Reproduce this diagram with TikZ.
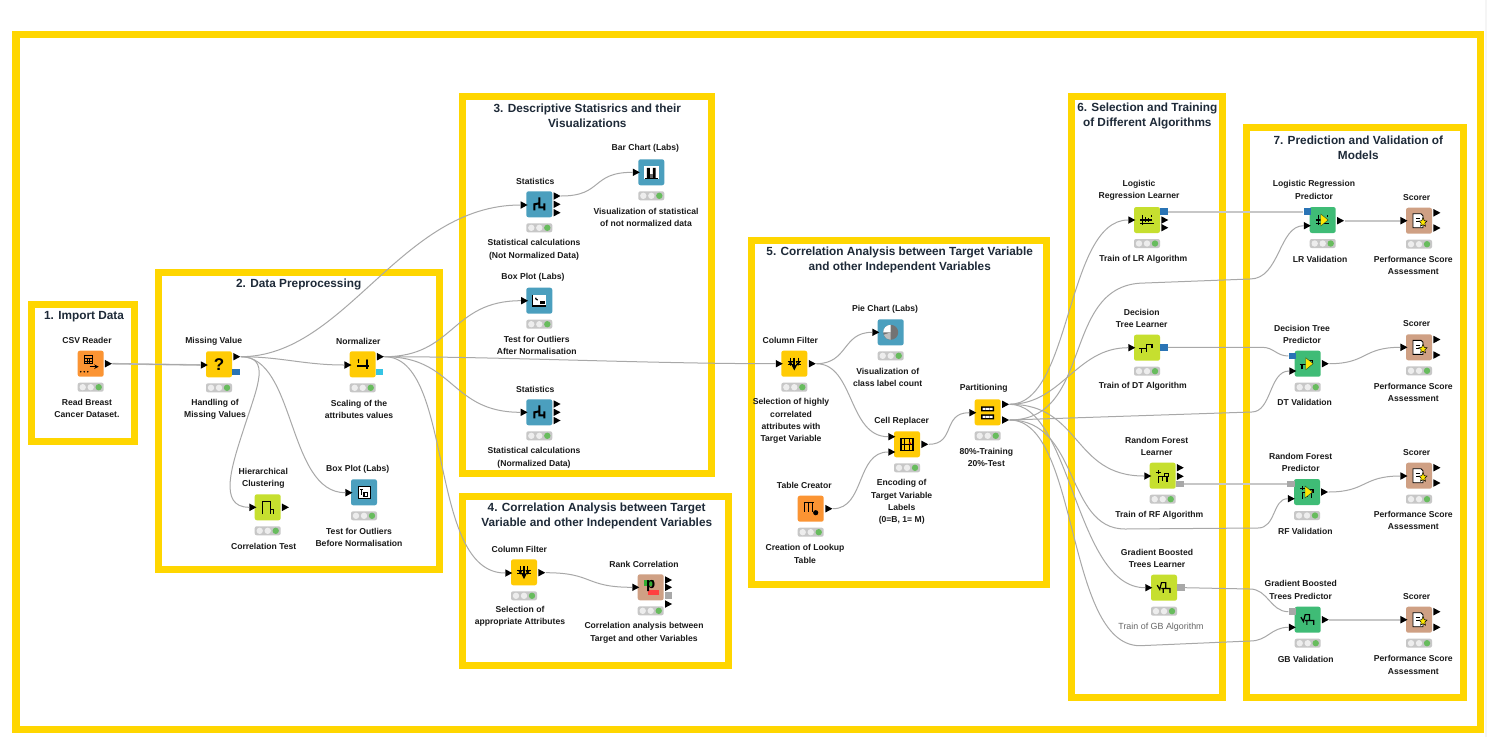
\documentclass[tikz,border=0pt]{standalone}
\usepackage{fontspec}
\setmainfont{Liberation Sans}
\usetikzlibrary{shapes.geometric}
\definecolor{frameY}{HTML}{FFD600}
\definecolor{kOrange}{HTML}{FB9433}
\definecolor{kYellow}{HTML}{FFCB05}
\definecolor{kBlue}{HTML}{4B9FBE}
\definecolor{kLime}{HTML}{C6DF2F}
\definecolor{kGreen}{HTML}{3FBC76}
\definecolor{kTan}{HTML}{CFA084}
\definecolor{wireC}{HTML}{A8A8A8}
\definecolor{portB}{HTML}{2A74B5}
\definecolor{portC}{HTML}{35C4E4}
\definecolor{portG}{HTML}{A8A8A8}
\definecolor{titleC}{HTML}{1E2A38}
\definecolor{labC}{HTML}{1A1A1A}
\definecolor{lampG}{HTML}{68BC5E}
\tikzset{
  x=1pt,y=-1pt,
  frameBox/.style={draw=frameY,line width=7.4pt,fill=none},
  titleT/.style={font=\bfseries\fontsize{11.8}{15}\selectfont,text=titleC,align=center,inner sep=0pt},
  lab/.style={font=\bfseries\fontsize{8.6}{12.3}\selectfont,text=labC,align=center,inner sep=0pt},
  labLight/.style={font=\fontsize{8.9}{12.3}\selectfont,text=black!60,align=center,inner sep=0pt},
  kbox/.style={rectangle,rounded corners=2.2pt,minimum size=26pt,inner sep=0pt,draw=none},
  lightbar/.style={rectangle,rounded corners=2pt,minimum width=26pt,minimum height=9pt,inner sep=0pt,fill=black!22},
  ptri/.style={isosceles triangle,isosceles triangle stretches,minimum width=7.5pt,minimum height=7pt,inner sep=0pt,fill=black,draw=none},
  psq/.style={rectangle,minimum width=7.5pt,minimum height=6.5pt,inner sep=0pt,draw=none},
  wire/.style={draw=wireC,line width=1pt},
  wireT/.style={draw=black!22,line width=1.6pt},
  ik/.style={draw=black,line width=1.2pt,fill=none},
}
\newcommand\KN[5]{%
  \node[kbox,fill=#4] (#1) at (#2,#3) {};
  \begin{scope}[shift={(#2,#3)}]
    \node[lightbar] (#1-st) at (0,23.5) {};
    \fill[black!7] (-8,23.5) circle[radius=3.2pt];
    \fill[black!7] (0,23.5) circle[radius=3.2pt];
    \fill[lampG] (8,23.5) circle[radius=3.2pt];
    #5
  \end{scope}}
\newcommand\PT[3]{\node[ptri] (#1) at (#2,#3) {};}
\newcommand\PS[4]{\node[psq,fill=#4] (#1) at (#2,#3) {};}
\newcommand\SC[2]{\begin{scope}[scale=#1]#2\end{scope}}
% icons
\newcommand\icCsv{\draw[ik,line width=.8pt] (-6.5,-8) rectangle (1.5,0);\draw[ik,line width=.6pt] (-6.5,-5.3)--(1.5,-5.3) (-6.5,-2.6)--(1.5,-2.6) (-3.8,-5.3)--(-3.8,0) (-1.1,-5.3)--(-1.1,0);
  \draw[ik,-stealth,line width=1pt] (-1,3)--(8,3);\fill[black] (-10,8) circle[radius=.9pt] (-6.5,8) circle[radius=.9pt] (-3,8) circle[radius=.9pt];}
\newcommand\icQ{\node[font=\bfseries\fontsize{17}{17}\selectfont,inner sep=0pt] at (0,0.5) {?};}
\newcommand\icNorm{\SC{.85}{\draw[ik] (-7,2)--(7,2);\draw[ik] (-5,-5)--(-5,-2) (5,-5)--(5,-2) (5,-2)--(5,6);\fill[black] (-5,-5) circle[radius=1.1pt] (5,-5) circle[radius=1.1pt];}}
\newcommand\icHier{\draw[ik] (-5,7)--(-5,-6)--(3,-6)--(3,7);\draw[ik,line width=.9pt] (3,2)--(6,2)--(6,7);}
\newcommand\icBoxA{\SC{.75}{\fill[white] (-8,-8) rectangle (8,8);\draw[ik,line width=.8pt] (-8,-8) rectangle (8,8);\draw[ik,line width=1.1pt] (-3,-4)--(-3,3) (0,0) rectangle (5,5) (-5,-4)--(-1,-4);}}
\newcommand\icBoxB{\SC{.75}{\fill[white] (-9,-8) rectangle (9,8);\draw[ik,line width=1.1pt] (-9,-8)--(-9,7)--(9,7);\draw[ik] (-5,-4) arc[start angle=180,end angle=270,radius=3pt];\fill[black] (1,1) rectangle (7,4);}}
\newcommand\icStat{\draw[ik,line width=2pt] (-5,6)--(-5,0)--(0,-1)--(0,-7) (0,-1)--(0,3)--(5,3)--(5,6) (5,3)--(5,-1);}
\newcommand\icBar{\SC{.72}{\fill[white] (-10,-9) rectangle (10,9);\draw[ik,line width=.9pt] (-9,8)--(9,8);\fill[black] (-6,-6) rectangle (-2,8) (2,-6) rectangle (6,8);\fill[black!60] (-2,3) rectangle (2,8);}}
\newcommand\icFilt{\SC{.75}{\draw[ik,line width=2pt,-stealth] (0,-8)--(0,9);\draw[ik,line width=1pt,-stealth] (-5,-8)--(-5,3);\draw[ik,line width=1pt,-stealth] (5,-8)--(5,3);\draw[ik,line width=1pt] (-9,-3)--(-2,-3) (2,-3)--(9,-3) (-9,1)--(-2,1) (2,1)--(9,1);}}
\newcommand\icPie{\fill[black!55] (0,0) circle[radius=7.5pt];\fill[white] (0,0)--(-7.5,0) arc[start angle=180,end angle=90,radius=7.5pt]--cycle;\fill[black!25] (0,0)--(0,7.5) arc[start angle=270,end angle=200,radius=7.5pt]--cycle;}
\newcommand\icCell{\SC{.85}{\draw[ik,line width=1.2pt] (-7,-7) rectangle (7,7);\draw[ik,line width=.9pt] (-7,0)--(7,0) (-2.5,-7)--(-2.5,7) (2.5,-7)--(2.5,7);\fill[red!80!black] (3.5,-1) circle[radius=1.5pt];}}
\newcommand\icTable{\draw[ik,line width=1.1pt] (-7,-6)--(3,-6);\draw[ik,line width=1.4pt] (-6,-6)--(-6,3) (-2,-6)--(-2,3) (2,-6)--(2,3);\fill[black] (5,4) circle[radius=2.6pt];}
\newcommand\icPart{\fill[black] (-6.5,-6) rectangle (6.5,-1) (-6.5,2) rectangle (6.5,7);\fill[white] (-5,-4.5) rectangle (-2,-2.5) (-1.5,-4.5) rectangle (1.5,-2.5) (2,-4.5) rectangle (5,-2.5) (-5,3.5) rectangle (-2,5.5) (-1.5,3.5) rectangle (1.5,5.5) (2,3.5) rectangle (5,5.5);}
\newcommand\icLR{\SC{.75}{\draw[ik,line width=1.1pt] (-6,-7)--(-6,6) (-9,5)--(9,5) (-9,0)--(7,0);\draw[ik,line width=1.1pt] (-2,2)--(-2,-4) (2,2)--(2,-3) (6,-4)--(6,-7);}}
\newcommand\icTree{\SC{.82}{\draw[ik,line width=1.2pt] (-7,7)--(-7,1)--(-1,1)--(-1,-4)--(6,-4)--(6,0) (-1,1)--(-1,5) (-10,1)--(-7,1);}}
\newcommand\icRF{\SC{.85}{\draw[ik,line width=1.2pt] (-5,8)--(-5,1)--(5,1)--(5,7) (0,1)--(0,6) (-5,-2)--(-5,-7) (-8,-4)--(-2,-4) (2,-3)--(2,1) (2,-3)--(7,-3)--(7,1);}}
\newcommand\icGB{\SC{.85}{\draw[ik,line width=1.2pt] (-8,-3)--(-5,2)--(-3,-6)--(2,-6)--(2,1)--(-3,1) (2,1)--(7,1)--(7,6) (-1,1)--(-1,6);}}
\newcommand\icTriY{\fill[yellow!90!orange,draw=black!60!kGreen,line width=.4pt] (-2,-6)--(5.5,0)--(-2,6)--cycle;}
\newcommand\icScore{\fill[white,draw=black,line width=.9pt] (-6,-7) -- (2,-7) -- (4,-5)--(4,7)--(-6,7)--cycle;\draw[black,line width=.9pt] (-3,-2)--(1,-2) (-3,1)--(0,1);\fill[yellow!90!orange,draw=black,line width=.5pt] (4,-3)--(5.3,0)--(8,0.4)--(5.8,2.5)--(6.5,5.5)--(4,4)--(1.5,5.5)--(2.2,2.5)--(0,0.4)--(2.7,0)--cycle;}
\newcommand\icRank{\fill[green!60!black!80!white] (-7,-7) rectangle (3,-1);\fill[red!75!white] (-3,3) rectangle (8,8);\node[font=\bfseries\fontsize{15}{15}\selectfont,inner sep=0pt] at (0,-1) {p};}

\begin{document}
\begin{tikzpicture}
\useasboundingbox (0,0) rectangle (1487,737);
\fill[white] (0,0) rectangle (1487,737);
\fill[black!4] (1485,0) rectangle (1487,737);
% frames
\draw[frameBox] (16,34.5) rectangle (1480.5,729.5);
\draw[frameBox] (31.7,304.7) rectangle (134.3,441.3);
\draw[frameBox] (158.7,272.7) rectangle (439.3,569.3);
\draw[frameBox] (462.7,96.7) rectangle (711.3,473.3);
\draw[frameBox] (462.7,496.7) rectangle (728.3,665.3);
\draw[frameBox] (751.7,240.7) rectangle (1046.3,584.3);
\draw[frameBox] (1071.7,96.7) rectangle (1222.3,697.3);
\draw[frameBox] (1246.7,127.7) rectangle (1463.3,697.3);
% titles
\node[titleT] (t1) at (84,316.7) {1. Import Data};
\node[titleT] (t2) at (298.7,284.5) {2. Data Preprocessing};
\node[titleT] (t3) at (587.3,115.5) {3. Descriptive Statisrics and their\\Visualizations};
\node[titleT] (t4) at (596.7,516) {4. Correlation Analysis between Target\\Variable and other Independent Variables};
\node[titleT] (t5) at (899.7,259.5) {5. Correlation Analysis between Target Variable\\and other Independent Variables};
\node[titleT] (t6) at (1147.3,116) {6. Selection and Training\\of Different Algorithms};
\node[titleT] (t7) at (1358.3,147.5) {7. Prediction and Validation of\\Models};
% nodes
\KN{csv}{90.7}{363.7}{kOrange}{\icCsv}
\KN{mv}{219}{364.3}{kYellow}{\icQ}
\KN{norm}{362.7}{364.3}{kYellow}{\icNorm}
\KN{hier}{267.7}{507.3}{kLime}{\icHier}
\KN{boxa}{364}{492.3}{kBlue}{\icBoxA}
\KN{stata}{539.3}{204.3}{kBlue}{\icStat}
\KN{bar}{651.3}{172.3}{kBlue}{\icBar}
\KN{boxb}{539.3}{300.7}{kBlue}{\icBoxB}
\KN{statb}{539.3}{412.3}{kBlue}{\icStat}
\KN{cfa}{524}{572.3}{kYellow}{\icFilt}
\KN{rank}{650.7}{587.3}{kTan}{\icRank}
\KN{cfb}{794.3}{363.7}{kYellow}{\icFilt}
\KN{pie}{890.7}{332.3}{kBlue}{\icPie}
\KN{cell}{907}{444.3}{kYellow}{\icCell}
\KN{tab}{810.7}{508.7}{kOrange}{\icTable}
\KN{part}{987.7}{412.3}{kYellow}{\icPart}
\KN{lrl}{1147}{220}{kLime}{\icLR}
\KN{dtl}{1147}{347.7}{kLime}{\icTree}
\KN{rfl}{1162.7}{475.7}{kLime}{\icRF}
\KN{gbl}{1164}{587.7}{kLime}{\icGB}
\KN{lrp}{1322.7}{220}{kGreen}{\icLR\icTriY}
\KN{dtp}{1307.7}{363.7}{kGreen}{\icTree\icTriY}
\KN{rfp}{1307}{492}{kGreen}{\icRF\icTriY}
\KN{gbp}{1307.7}{619.7}{kGreen}{\icGB}
\KN{sca}{1419}{220.7}{kTan}{\icScore}
\KN{scb}{1419}{347.3}{kTan}{\icScore}
\KN{scc}{1419}{475.7}{kTan}{\icScore}
\KN{scd}{1419}{619.7}{kTan}{\icScore}
% ports
\PT{csv-o}{107.2}{363.7}
\PT{mv-i}{203}{365}\PT{mv-o}{235.5}{356.7}\PS{mv-s}{236}{372}{portB}
\PT{norm-i}{346.7}{365}\PT{norm-o}{379.2}{356.7}\PS{norm-s}{379.5}{372}{portC}
\PT{hier-i}{251.7}{507.3}\PT{hier-o}{284.2}{507.3}
\PT{boxa-i}{347.7}{492.7}
\PT{stata-i}{522.8}{205}\PT{stata-a}{555.8}{196}\PT{stata-b}{555.8}{204.3}\PT{stata-c}{555.8}{212.7}
\PT{bar-i}{635}{172.3}
\PT{boxb-i}{523.3}{300.7}
\PT{statb-i}{522.8}{412.3}\PT{statb-a}{555.8}{404}\PT{statb-b}{555.8}{412.3}\PT{statb-c}{555.8}{420.5}
\PT{cfa-i}{507.5}{573}\PT{cfa-o}{540.5}{572.7}
\PT{rank-i}{634.5}{587.3}\PT{rank-a}{667.3}{580}\PT{rank-b}{667.3}{587.3}\PS{rank-s}{668.7}{595.7}{portG}\PT{rank-c}{667.3}{604}
\PT{cfb-i}{778}{363.7}\PT{cfb-o}{811}{363.7}
\PT{pie-i}{874.5}{332.3}
\PT{cell-ia}{890.5}{436.7}\PT{cell-ib}{890.5}{452}\PT{cell-o}{923.5}{444.3}
\PT{tab-o}{827.7}{508.7}
\PT{part-i}{971.5}{412.7}\PT{part-a}{1004.3}{404.3}\PT{part-b}{1004.3}{420}
\PT{lrl-i}{1130.5}{220}\PS{lrl-s}{1164}{211.7}{portB}\PT{lrl-a}{1163.5}{220}\PT{lrl-b}{1163.5}{227.7}
\PT{dtl-i}{1130.5}{347.7}\PS{dtl-s}{1164}{347.3}{portB}
\PT{rfl-i}{1146.5}{476}\PT{rfl-a}{1179}{467.7}\PT{rfl-b}{1179}{476.3}\PS{rfl-s}{1180}{484}{portG}
\PT{gbl-i}{1147.5}{587.7}\PS{gbl-s}{1181}{587.7}{portG}
\PS{lrp-s}{1307.3}{211.7}{portB}\PT{lrp-i}{1306}{225.7}\PT{lrp-o}{1339.3}{220.7}
\PS{dtp-s}{1292.3}{356}{portB}\PT{dtp-i}{1291.5}{371}\PT{dtp-o}{1324}{363.7}
\PS{rfp-s}{1291}{484}{portG}\PT{rfp-i}{1290}{498.7}\PT{rfp-o}{1323.3}{492}
\PS{gbp-s}{1292.3}{611.7}{portG}\PT{gbp-i}{1291}{627.3}\PT{gbp-o}{1324}{619.7}
\PT{sca-i}{1402.7}{220.7}\PT{sca-a}{1435.7}{212.8}\PT{sca-b}{1435.7}{228}
\PT{scb-i}{1402.7}{347.3}\PT{scb-a}{1435.7}{339.5}\PT{scb-b}{1435.7}{355}
\PT{scc-i}{1402.7}{476}\PT{scc-a}{1435.7}{467.7}\PT{scc-b}{1435.7}{483}
\PT{scd-i}{1402.7}{619.7}\PT{scd-a}{1435.7}{611.7}\PT{scd-b}{1435.7}{627.3}
% labels
\node[lab] (l01) at (87,340) {CSV Reader};
\node[lab] (l02) at (87,408.7) {Read Breast\\Cancer Dataset.};
\node[lab] (l03) at (213.7,341.3) {Missing Value};
\node[lab] (l04) at (215,409.3) {Handling of\\Missing Values};
\node[lab] (l05) at (358.3,341.3) {Normalizer};
\node[lab] (l06) at (359,409.3) {Scaling of the\\attributes values};
\node[lab] (l07) at (263.3,478.3) {Hierarchical\\Clustering};
\node[lab] (l08) at (263.7,546.3) {Correlation Test};
\node[lab] (l09) at (357.7,469) {Box Plot (Labs)};
\node[lab] (l10) at (359,537.3) {Test for Outliers\\Before Normalisation};
\node[lab] (l11) at (645.3,148.7) {Bar Chart (Labs)};
\node[lab] (l12) at (535.3,181.3) {Statistics};
\node[lab] (l13) at (646,217.7) {Visualization of statistical\\of not normalized data};
\node[lab] (l14) at (534,249.7) {Statistical calculations\\(Not Normalized Data)};
\node[lab] (l15) at (533,277.7) {Box Plot (Labs)};
\node[lab] (l16) at (536.7,345.7) {Test for Outliers\\After  Normalisation};
\node[lab] (l17) at (535.3,389) {Statistics};
\node[lab] (l18) at (534,457.7) {Statistical calculations\\(Normalized Data)};
\node[lab] (l19) at (519.3,549) {Column Filter};
\node[lab] (l20) at (520,616.3) {Selection of\\appropriate Attributes};
\node[lab] (l21) at (644,564) {Rank Correlation};
\node[lab] (l22) at (644,632.7) {Correlation analysis between\\Target and other Variables};
\node[lab] (l23) at (885,309) {Pie Chart (Labs)};
\node[lab] (l24) at (790.3,340.3) {Column Filter};
\node[lab] (l25) at (887.7,377.7) {Visualization of\\class label count};
\node[lab] (l26) at (791,421) {Selection of highly\\correlated\\attributes with\\Target Variable};
\node[lab] (l27) at (901.7,421.3) {Cell Replacer};
\node[lab] (l28) at (983.7,388.7) {Partitioning};
\node[lab] (l29) at (986.3,457.7) {80\%-Training\\20\%-Test};
\node[lab] (l30) at (804.3,485) {Table Creator};
\node[lab] (l31) at (901.7,502) {Encoding of\\Target Variable\\Labels\\(0=B, 1= M)};
\node[lab] (l32) at (805,554) {Creation of Lookup\\Table};
\node[lab] (l33) at (1139,190) {Logistic\\Regression Learner};
\node[lab] (l34) at (1143.3,259) {Train of LR Algorithm};
\node[lab] (l35) at (1314,190) {Logistic Regression\\Predictor};
\node[lab] (l36) at (1320,259) {LR Validation};
\node[lab] (l37) at (1416.7,197.7) {Scorer};
\node[lab] (l38) at (1413.3,265.7) {Performance Score\\Assessment};
\node[lab] (l39) at (1141.7,318.3) {Decision\\Tree Learner};
\node[lab] (l40) at (1142.7,386.3) {Train of DT Algorithm};
\node[lab] (l41) at (1302,334.3) {Decision Tree\\Predictor};
\node[lab] (l42) at (1304.7,402.7) {DT Validation};
\node[lab] (l43) at (1416.7,324) {Scorer};
\node[lab] (l44) at (1413.3,392.3) {Performance Score\\Assessment};
\node[lab] (l45) at (1156.7,446.3) {Random Forest\\Learner};
\node[lab] (l46) at (1159.3,515.3) {Train of RF Algorithm};
\node[lab] (l47) at (1300.7,462.7) {Random Forest\\Predictor};
\node[lab] (l48) at (1305.3,531.3) {RF Validation};
\node[lab] (l49) at (1416.7,452.7) {Scorer};
\node[lab] (l50) at (1413.3,520.7) {Performance Score\\Assessment};
\node[lab] (l51) at (1157,558.3) {Gradient Boosted\\Trees Learner};
\node[labLight] (l52) at (1161,626.7) {Train of GB Algorithm};
\node[lab] (l53) at (1300.7,590) {Gradient Boosted\\Trees Predictor};
\node[lab] (l54) at (1305.7,659) {GB Validation};
\node[lab] (l55) at (1416.7,596.7) {Scorer};
\node[lab] (l56) at (1413.3,665) {Performance Score\\Assessment};
% free bend points
\coordinate (lrA) at (1145,283);\coordinate (lrB) at (1250,279);
\coordinate (dtB) at (1251.7,412);
\coordinate (rfA) at (1125,529);\coordinate (rfB) at (1258,528);
\coordinate (gbA) at (1140,645.7);\coordinate (gbB) at (1250,641);
\coordinate (dsA) at (1262,347.3);
\coordinate (gsA) at (1250,589);
\coordinate (hierM) at (245,425);
% wires
\draw[wireT] (csv-o.east) -- (mv-i.west);
\draw[wire] (csv-o.east) -- (mv-i.west);
\draw[wire] (mv-o.east) .. controls +(40,0) and +(-40,0) .. (norm-i.west);
\draw[wire] (mv-o.east) .. controls +(105,0) and +(-120,0) .. (stata-i.west);
\draw[wire] (mv-o.east) .. controls +(30,0) and +(13,-40) .. (hierM) .. controls +(-13,40) and +(-32,0) .. (hier-i.west);
\draw[wire] (mv-o.east) .. controls +(55,0) and +(-58,0) .. (boxa-i.west);
\draw[wire] (norm-o.east) .. controls +(70,0) and +(-70,0) .. (boxb-i.west);
\draw[wire] (norm-o.east) .. controls +(70,0) and +(-70,0) .. (statb-i.west);
\draw[wire] (norm-o.east) .. controls +(120,0) and +(-130,0) .. (cfb-i.west);
\draw[wire] (norm-o.east) .. controls +(70,0) and +(-78,0) .. (cfa-i.west);
\draw[wire] (stata-a.east) .. controls +(42,0) and +(-42,0) .. (bar-i.west);
\draw[wire] (cfa-o.east) .. controls +(48,0) and +(-48,0) .. (rank-i.west);
\draw[wire] (cfb-o.east) .. controls +(32,0) and +(-30,0) .. (pie-i.west);
\draw[wire] (cfb-o.east) .. controls +(38,0) and +(-40,0) .. (cell-ia.west);
\draw[wire] (tab-o.east) .. controls +(32,0) and +(-32,0) .. (cell-ib.west);
\draw[wire] (cell-o.east) .. controls +(27,0) and +(-27,0) .. (part-i.west);
\draw[wire] (part-a.east) .. controls +(62,0) and +(-62,0) .. (lrl-i.west);
\draw[wire] (part-a.east) .. controls +(52,0) and +(-52,0) .. (dtl-i.west);
\draw[wire] (part-a.east) .. controls +(72,0) and +(-72,0) .. (rfl-i.west);
\draw[wire] (part-a.east) .. controls +(62,0) and +(-70,0) .. (gbl-i.west);
\draw[wire] (part-b.east) .. controls +(85,0) and +(-85,0) .. (lrA) -- (lrB) .. controls +(30,0) and +(-25,0) .. (lrp-i.west);
\draw[wire] (part-b.east) -- (dtB) .. controls +(20,0) and +(-20,0) .. (dtp-i.west);
\draw[wire] (part-b.east) .. controls +(70,0) and +(-60,0) .. (rfA) -- (rfB) .. controls +(18,0) and +(-15,0) .. (rfp-i.west);
\draw[wire] (part-b.east) .. controls +(70,0) and +(-75,0) .. (gbA) -- (gbB) .. controls +(18,0) and +(-18,0) .. (gbp-i.west);
\draw[wireT] (lrl-s.east) -- (lrp-s.west);
\draw[wire] (dtl-s.east) -- (dsA) .. controls +(12,0) and +(-12,0) .. (dtp-s.west);
\draw[wireT] (rfl-s.east) -- (rfp-s.west);
\draw[wire] (gbl-s.east) -- (gsA) .. controls +(18,0) and +(-18,0) .. (gbp-s.west);
\draw[wireT] (lrp-o.east) -- (sca-i.west);
\draw[wire] (dtp-o.east) .. controls +(38,0) and +(-38,0) .. (scb-i.west);
\draw[wire] (rfp-o.east) .. controls +(38,0) and +(-38,0) .. (scc-i.west);
\draw[wireT] (gbp-o.east) -- (scd-i.west);
\end{tikzpicture}
\end{document}
